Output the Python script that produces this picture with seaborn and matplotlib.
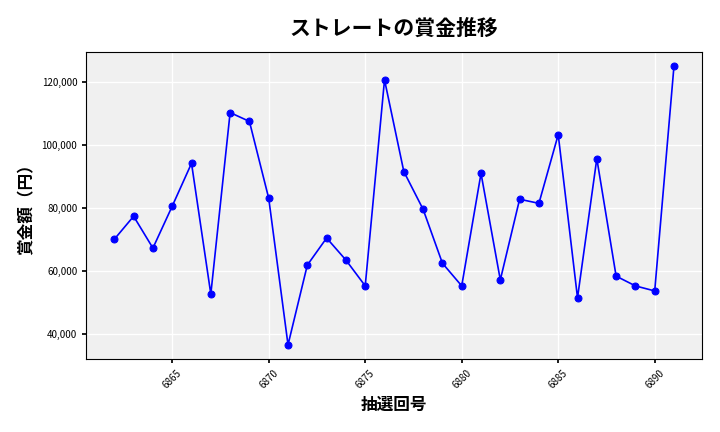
import matplotlib
matplotlib.use("Agg")
import matplotlib.pyplot as plt
import matplotlib.ticker as mticker
import seaborn as sns
import pandas as pd

draws = list(range(6862, 6892))
prizes = [70000, 77300, 67200, 80500, 94100, 52600, 110200, 107400, 83000, 36500,
          61800, 70400, 63400, 55200, 120600, 91500, 79500, 62400, 55200, 90900,
          57100, 82700, 81400, 103200, 51400, 95600, 58300, 55200, 53600, 125100]

df = pd.DataFrame({"draw": draws, "prize": prizes})

sns.set_theme(style="darkgrid", rc={"axes.facecolor": "#f0f0f0", "grid.color": "white",
                                    "xtick.bottom": True, "ytick.left": True,
                                    "text.color": "black", "axes.labelcolor": "black",
                                    "xtick.color": "black", "ytick.color": "black"})
plt.rcParams['font.family'] = ['Noto Sans CJK JP', 'DejaVu Sans']

fig, ax = plt.subplots(figsize=(7.2, 4.32), dpi=100)
sns.lineplot(data=df, x="draw", y="prize", ax=ax, color="blue", marker="o",
             markersize=5, markeredgecolor="blue", linewidth=1.2)

ax.set_title("ストレートの賞金推移", fontsize=15, fontweight="bold", pad=12)
ax.set_xlabel("抽選回号", fontsize=12, fontweight="bold")
ax.set_ylabel("賞金額（円）", fontsize=12, fontweight="bold")
ax.yaxis.set_major_formatter(mticker.FuncFormatter(lambda v, p: f"{int(v):,}"))
ax.tick_params(axis="x", labelsize=7, rotation=45, length=3)
ax.tick_params(axis="y", labelsize=7, length=3)
for s in ax.spines.values():
    s.set_visible(True)
    s.set_color("black")
    s.set_linewidth(0.8)

plt.tight_layout()
plt.savefig("out.png", dpi=100)
